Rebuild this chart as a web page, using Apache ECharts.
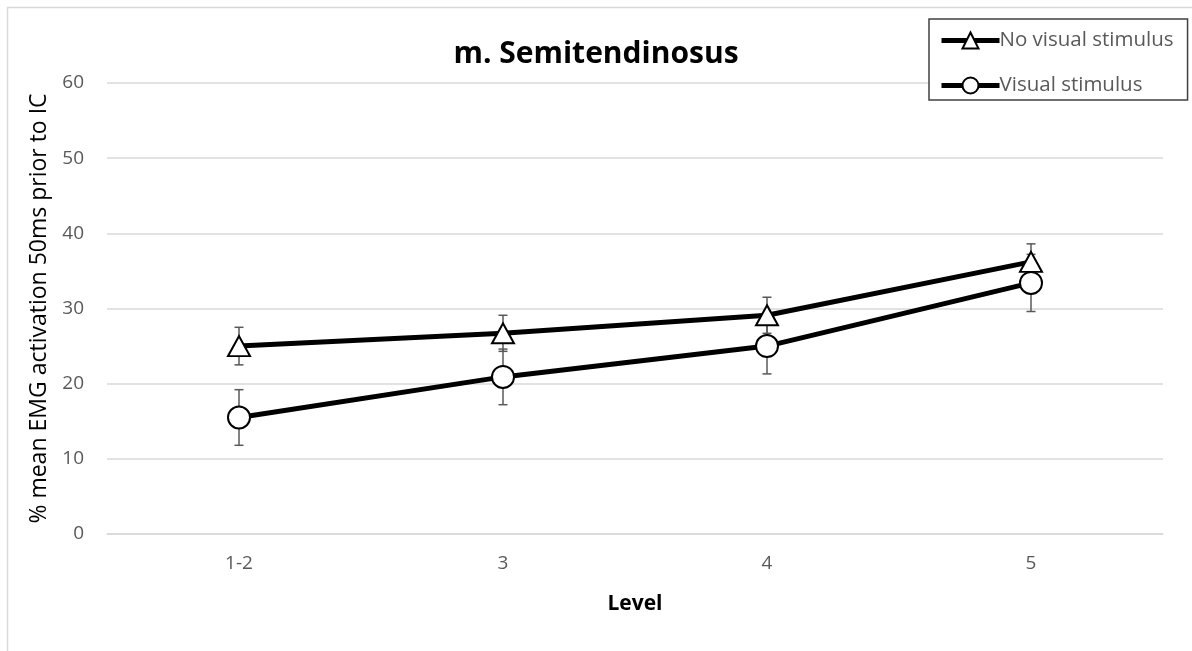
<!DOCTYPE html>
<html><head><meta charset="utf-8">
<script src="https://cdn.jsdelivr.net/npm/echarts@6/dist/echarts.min.js"></script>
<style>html,body{margin:0;padding:0;background:#fff}#c{width:1192px;height:651px}</style>
</head><body><div id="c"></div>
<script>
const categories = ['1-2', '3', '4', '5'];
const noVisual = [25.0, 26.7, 29.1, 36.2];
const noVisualErr = [2.5, 2.4, 2.4, 2.4];
const visual = [15.5, 20.9, 25.0, 33.4];
const visualErr = [3.7, 3.7, 3.7, 3.8];
const yTicks = [0, 10, 20, 30, 40, 50, 60];

const font = '"Open Sans", "Liberation Sans", sans-serif';

function errData(vals, errs) {
  return vals.map((v, i) => [i, v - errs[i], v + errs[i]]);
}
function errSeries(vals, errs) {
  return {
    type: 'custom',
    z: 1,
    silent: true,
    data: errData(vals, errs),
    renderItem: function (params, api) {
      const lo = api.coord([api.value(0), api.value(1)]);
      const hi = api.coord([api.value(0), api.value(2)]);
      const w = 4.5;
      const style = { stroke: '#595959', lineWidth: 1.5, fill: null };
      return {
        type: 'group',
        children: [
          { type: 'line', shape: { x1: lo[0], y1: lo[1], x2: hi[0], y2: hi[1] }, style },
          { type: 'line', shape: { x1: lo[0] - w, y1: lo[1], x2: lo[0] + w, y2: lo[1] }, style },
          { type: 'line', shape: { x1: hi[0] - w, y1: hi[1], x2: hi[0] + w, y2: hi[1] }, style }
        ]
      };
    }
  };
}

const chart = echarts.init(document.getElementById('c'), null, { renderer: 'canvas' });
chart.setOption({
  animation: false,
  backgroundColor: '#fff',
  graphic: [{
    type: 'rect', shape: { x: 7.5, y: 7.5, width: 1200, height: 700 },
    style: { fill: null, stroke: '#d9d9d9', lineWidth: 1.5 }, z: -10
  }],
  title: {
    text: 'm. Semitendinosus', left: 'center', top: 34,
    textStyle: { fontFamily: font, fontSize: 30, fontWeight: 'bold', color: '#000' }
  },
  legend: {
    left: 929, top: 19,
    orient: 'vertical',
    itemGap: 24,
    itemWidth: 58, itemHeight: 20,
    padding: [11, 14, 4, 10],
    borderColor: '#404040', borderWidth: 1.5,
    backgroundColor: '#fff',
    lineStyle: { width: 5, color: '#000' },
    textStyle: { fontFamily: font, fontSize: 20.5, color: '#595959', padding: [0, 0, 0, -5] },
    data: ['No visual stimulus', 'Visual stimulus']
  },
  grid: { left: 107, right: 29, top: 83, bottom: 117, containLabel: false },
  xAxis: {
    type: 'category', data: categories, boundaryGap: true,
    name: 'Level', nameLocation: 'middle', nameGap: 60,
    nameTextStyle: { fontFamily: font, fontSize: 21, fontWeight: 'bold', color: '#000' },
    axisLine: { show: true, lineStyle: { color: '#d9d9d9', width: 1.5 } },
    axisTick: { show: false },
    axisLabel: { fontFamily: font, fontSize: 19, color: '#595959', margin: 20 }
  },
  yAxis: {
    type: 'value', min: yTicks[0], max: yTicks[yTicks.length - 1], interval: 10,
    name: '% mean EMG activation 50ms prior to IC', nameLocation: 'middle', nameGap: 53,
    nameTextStyle: { fontFamily: font, fontSize: 23, color: '#000' },
    axisLine: { show: false }, axisTick: { show: false },
    axisLabel: { fontFamily: font, fontSize: 19, color: '#595959', margin: 23 },
    splitLine: { lineStyle: { color: '#d9d9d9', width: 1.5 } }
  },
  series: [
    errSeries(noVisual, noVisualErr),
    errSeries(visual, visualErr),
    {
      name: 'No visual stimulus', type: 'line', data: noVisual, z: 3,
      symbol: 'triangle', symbolSize: [22, 20],
      lineStyle: { color: '#000', width: 5 },
      itemStyle: { color: '#fff', borderColor: '#000', borderWidth: 2 }
    },
    {
      name: 'Visual stimulus', type: 'line', data: visual, z: 3,
      symbol: 'circle', symbolSize: 22,
      lineStyle: { color: '#000', width: 5 },
      itemStyle: { color: '#fff', borderColor: '#000', borderWidth: 2 }
    }
  ]
});
</script></body></html>
